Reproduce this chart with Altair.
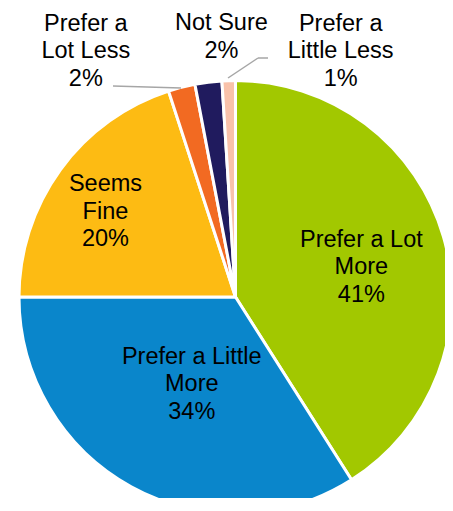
import altair as alt
import pandas as pd

categories = ["Prefer a Lot More", "Prefer a Little More", "Seems Fine",
              "Prefer a Lot Less", "Not Sure", "Prefer a Little Less"]
values = [41, 34, 20, 2, 2, 1]
label_text = ["Prefer a Lot\nMore\n41%", "Prefer a Little\nMore\n34%", "Seems\nFine\n20%",
              "Prefer a\nLot Less\n2%", "Not Sure\n2%", "Prefer a\nLittle Less\n1%"]
colors = ["#A2C800", "#0A86CB", "#FDBB13", "#F26A22", "#201B5E", "#F9C2AA"]

df = pd.DataFrame({"cat": categories, "value": values, "label": label_text})
df["end"] = df["value"].cumsum()
df["start"] = df["end"] - df["value"]
df["mid"] = (df["start"] + df["end"]) / 2
df["lines"] = df["label"].str.count("\n") + 1

CX, CY, R = 227.5, 289, 216.5
LH = 27.5
theta_scale = alt.Scale(domain=[0, 100], range=[0, 6.283185307])
color = alt.Color("cat:N", scale=alt.Scale(domain=categories, range=colors), legend=None)

base = alt.Chart(df)

arcs = base.mark_arc(radius=R, stroke="white", strokeWidth=3).encode(
    theta=alt.Theta("start:Q", scale=theta_scale),
    theta2="end:Q",
    color=color,
    x=alt.value(CX), y=alt.value(CY),
)

# label placement: (radius, dx, dy) for the centre of each label block
placement = {
    "Prefer a Lot More": (129, 2, 6),
    "Prefer a Little More": (97, 3, 2),
    "Seems Fine": (157, -3, 7),
    "Prefer a Lot Less": (260, -85, 6),
    "Not Sure": (264, 19, 2),
    "Prefer a Little Less": (248, 113, 2),
}
nlines = dict(zip(df["cat"], df["lines"]))

layers = [arcs]
for cat, (r, dx, dy) in placement.items():
    shift = (nlines[cat] - 1) * LH / 2
    layers.append(
        base.transform_filter(alt.datum.cat == cat).mark_text(
            radius=r, dx=dx, dy=dy - shift, font="Liberation Sans", fontSize=23.5,
            lineBreak="\n", lineHeight=LH, align="center", baseline="middle",
            color="#000000",
        ).encode(
            theta=alt.Theta("mid:Q", scale=theta_scale),
            text="label:N",
            x=alt.value(CX), y=alt.value(CY),
        )
    )

leaders = pd.DataFrame({"x": [105, 220, 250], "y": [78, 70, 50],
                        "x2": [173, 250, 260], "y2": [80, 50, 50]})
rules = alt.Chart(leaders).mark_rule(color="#A6A6A6", strokeWidth=1.5).encode(
    x=alt.X("x:Q", scale=None), y=alt.Y("y:Q", scale=None),
    x2="x2:Q", y2="y2:Q",
)
layers.append(rules)

chart = alt.layer(*layers).properties(
    width=437, height=490, padding=0, autosize=alt.AutoSizeParams(type="none")
).configure_view(stroke=None)

chart.save("out.html", embed_options={"renderer": "svg", "actions": False})
